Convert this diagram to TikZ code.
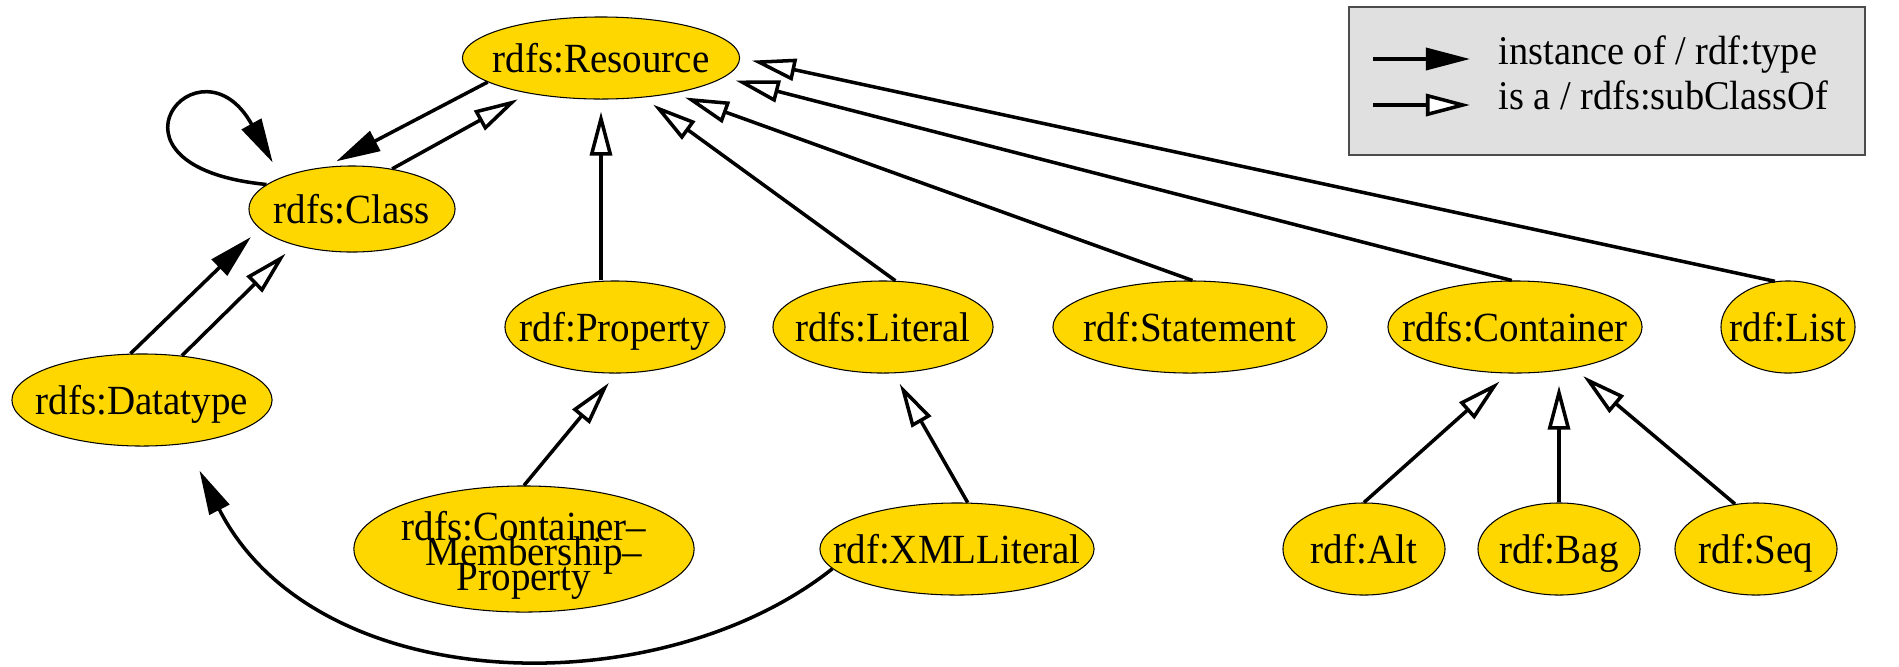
\documentclass[tikz,border=0pt]{standalone}
\usepackage{fontspec}
\setmainfont{Liberation Serif}[FakeStretch=0.94]
\usetikzlibrary{arrows.meta,shapes.geometric}
\definecolor{rdfgold}{RGB}{255,215,0}
\definecolor{keygray}{RGB}{224,224,224}
% label with no width, so the ellipse keeps its own size
\newcommand{\lbl}[1]{\makebox[0pt]{#1}}
\tikzset{
  cls/.style={ellipse, draw=black, line width=0.3pt, fill=rdfgold, inner sep=0pt,
    minimum height=0.92cm, text height=8.3pt, text depth=0pt, font=\fontsize{11.8}{13}\selectfont},
  inst/.style={line width=1pt, shorten >=1.2mm, -{Triangle[length=4.4mm,width=2.2mm]}},
  isa/.style={line width=1pt, shorten >=1.2mm, -{Triangle[length=4.4mm,width=2.2mm,fill=white]}},
  keytext/.style={anchor=base west, inner sep=0pt, font=\fontsize{11.6}{13}\selectfont},
}

\begin{document}
\begin{tikzpicture}[x=0.01cm, y=0.01cm]
		%%%%% START %%%%%
		\useasboundingbox (0,0) rectangle (1899,-666);

		% classes
		\node[cls, minimum width=2.77cm, minimum height=0.82cm] (resource) at (601,-58) {\lbl{rdfs:Resource}};
		\node[cls, minimum width=2.06cm, minimum height=0.86cm] (class) at (352,-209) {\lbl{rdfs:Class}};
		\node[cls, minimum width=2.60cm] (datatype) at (142,-400) {\lbl{rdfs:Datatype}};

		\node[cls, minimum width=2.20cm] (property) at (615,-327) {\lbl{rdf:Property}};
		\node[cls, minimum width=2.20cm] (literal) at (883,-327) {\lbl{rdfs:Literal}};
		\node[cls, minimum width=2.74cm] (statement) at (1190,-327) {\lbl{rdf:Statement}};
		\node[cls, minimum width=2.54cm] (container) at (1515,-327) {\lbl{rdfs:Container}};
		\node[cls, minimum width=1.34cm] (list) at (1788,-327) {\lbl{rdf:List}};

		\node[cls, minimum width=3.40cm, minimum height=1.26cm, text height=0pt] (cmprop) at (524,-549)
			{\lbl{\smash{\raisebox{-4.7pt}{\parbox{3cm}{\centering\baselineskip=7.1pt\lineskiplimit=-20pt
			rdfs:Container–\\ \hspace*{0.2cm}Membership–\\ Property}}}}};
		\node[cls, minimum width=2.74cm] (xmlliteral) at (957,-549) {\lbl{rdf:XMLLiteral}};
		\node[cls, minimum width=1.62cm] (alt) at (1364,-549) {\lbl{rdf:Alt}};
		\node[cls, minimum width=1.62cm] (bag) at (1559,-549) {\lbl{rdf:Bag}};
		\node[cls, minimum width=1.62cm] (seq) at (1756,-549) {\lbl{rdf:Seq}};

		% key
		\draw[draw=black!70, line width=0.3pt, fill=keygray] (1349,-7) rectangle (1865,-155);
		\coordinate (ka) at (1373,-59);
		\coordinate (kb) at (1470,-59);
		\coordinate (kc) at (1373,-105);
		\coordinate (kd) at (1470,-105);
		\draw[inst, shorten >=0pt] (ka) -- (kb);
		\draw[isa, shorten >=0pt] (kc) -- (kd);
		\node[keytext] (typetext) at (1498,-64) {instance of / rdf:type};
		\node[keytext] (subtext) at (1498,-109) {is a / rdfs:subClassOf};

		% instance of
		\draw[inst] (resource.192) -- (class.122);
		\draw[inst, shorten >=1.7mm] (class.164) .. controls +(-182,18) and +(-81,147) .. (class.156);
		\draw[inst] (datatype.104) -- (class.192);
		\draw[inst, shorten >=3mm] (xmlliteral.189) .. controls +(-174,-138) and +(130,-255) .. (datatype.315);

		% is a
		\draw[isa] (class.45) -- (resource.206);
		\draw[isa] (datatype.48) -- (class.212);
		\draw[isa] (property.north -| resource.south) -- (resource.south);
		\draw[isa] (literal.75) -- (resource.317);
		\draw[isa] (statement.87) -- (resource.334);
		\draw[isa] (container.94) -- (resource.351);
		\draw[isa] (list.106) -- (resource.0);
		\draw[isa] (cmprop.north) -- (property.272);
		\draw[isa] (xmlliteral.77) -- (literal.283);
		\draw[isa] (alt.north) -- (container.262);
		\draw[isa] (bag.north) -- (bag.north |- container.south);
		\draw[isa] (seq.115) -- (container.325);

		%%%%% END %%%%%
	\end{tikzpicture}
\end{document}
